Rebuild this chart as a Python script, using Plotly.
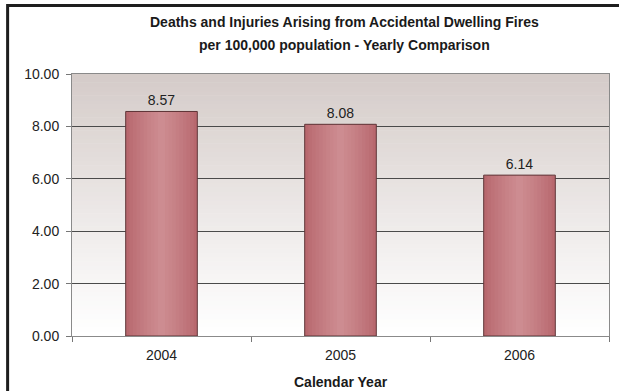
import plotly.graph_objects as go

years = ["2004", "2005", "2006"]
values = [8.57, 8.08, 6.14]
value_labels = ["8.57", "8.08", "6.14"]
y_ticks = [0, 2, 4, 6, 8, 10]
y_tick_text = ["0.00", "2.00", "4.00", "6.00", "8.00", "10.00"]

title_line1 = "<b>Deaths and Injuries Arising from Accidental Dwelling Fires</b>"
title_line2 = "<b>per 100,000 population - Yearly Comparison</b>"
x_title = "<b>Calendar Year</b>"

FONT = "Liberation Sans, Arial, sans-serif"

fig = go.Figure()

# bars with simulated smooth horizontal gradient (overlayed narrower bars)
edge = (184, 104, 110)
centre = (205, 140, 145)
nl = 10
for i in range(nl):
    w = 0.40 * (nl - i) / nl
    f = (i / (nl - 1)) ** 0.8
    c = tuple(int(edge[j] + (centre[j] - edge[j]) * f) for j in range(3))
    fig.add_trace(go.Bar(
        x=years, y=values, width=w,
        marker=dict(color=f"rgb{c}", line=dict(width=0)),
        hoverinfo="skip", showlegend=False,
    ))
# outline and value labels on top
fig.add_trace(go.Bar(
    x=years, y=values, width=0.40,
    marker=dict(color="rgba(0,0,0,0)", line=dict(color="#5e3537", width=1)),
    text=value_labels, textposition="outside",
    textfont=dict(family=FONT, size=14, color="#222222"),
    cliponaxis=False,
    hoverinfo="skip", showlegend=False,
))

# background vertical gradient as bands
n = 60
top = (213, 204, 201)
bot = (255, 255, 255)
for k in range(n):
    t = k / (n - 1)
    f = t ** 1.1
    r = int(bot[0] + (top[0] - bot[0]) * f)
    g = int(bot[1] + (top[1] - bot[1]) * f)
    b = int(bot[2] + (top[2] - bot[2]) * f)
    fig.add_shape(type="rect", xref="x domain", yref="y domain",
                  x0=0, x1=1, y0=k / n, y1=(k + 1) / n + 0.002,
                  fillcolor=f"rgb({r},{g},{b})", line=dict(width=0), layer="below")

PH = 262.0
PW = 538.0
# outer frame (left and top visible)
fig.add_shape(type="rect", xref="paper", yref="paper",
              x0=(7.5 - 72) / PW, x1=1.2, y0=-0.5, y1=1 + (74 - 5.5) / PH,
              line=dict(color="#1e1e1e", width=3), fillcolor="rgba(0,0,0,0)", layer="above")

fig.add_annotation(text=title_line1, xref="paper", yref="paper",
                   x=0.5 + 4 / PW, y=1 + (74 - 22) / PH, xanchor="center", yanchor="middle",
                   showarrow=False, font=dict(family=FONT, size=14, color="#1a1a1a"))
fig.add_annotation(text=title_line2, xref="paper", yref="paper",
                   x=0.5 + 4 / PW, y=1 + (74 - 45) / PH, xanchor="center", yanchor="middle",
                   showarrow=False, font=dict(family=FONT, size=14, color="#1a1a1a"))
fig.add_annotation(text=x_title, xref="paper", yref="paper",
                   x=0.5, y=-(382 - 336) / PH, xanchor="center", yanchor="middle",
                   showarrow=False, font=dict(family=FONT, size=14, color="#1a1a1a"))

fig.update_layout(
    width=619, height=391,
    margin=dict(l=72, r=10, t=74, b=55),
    paper_bgcolor="white",
    plot_bgcolor="white",
    barmode="overlay",
    font=dict(family=FONT, size=14, color="#222222"),
    xaxis=dict(
        type="category", tickson="boundaries", ticks="outside", ticklen=5,
        tickcolor="#777777", showline=True, linecolor="#8a8a8a", linewidth=1,
        mirror=True, showgrid=False, ticklabelstandoff=6, automargin=False,
        tickfont=dict(family=FONT, size=14, color="#222222"),
    ),
    yaxis=dict(
        range=[0, 10], tickvals=y_ticks, ticktext=y_tick_text,
        ticks="outside", ticklen=5, tickcolor="#777777",
        showline=True, linecolor="#8a8a8a", linewidth=1, mirror=True,
        showgrid=True, gridcolor="#4a4a4a", gridwidth=1,
        zeroline=False, ticklabelstandoff=4, automargin=False,
        tickfont=dict(family=FONT, size=14, color="#222222"),
    ),
)

fig.write_html("out.html")
